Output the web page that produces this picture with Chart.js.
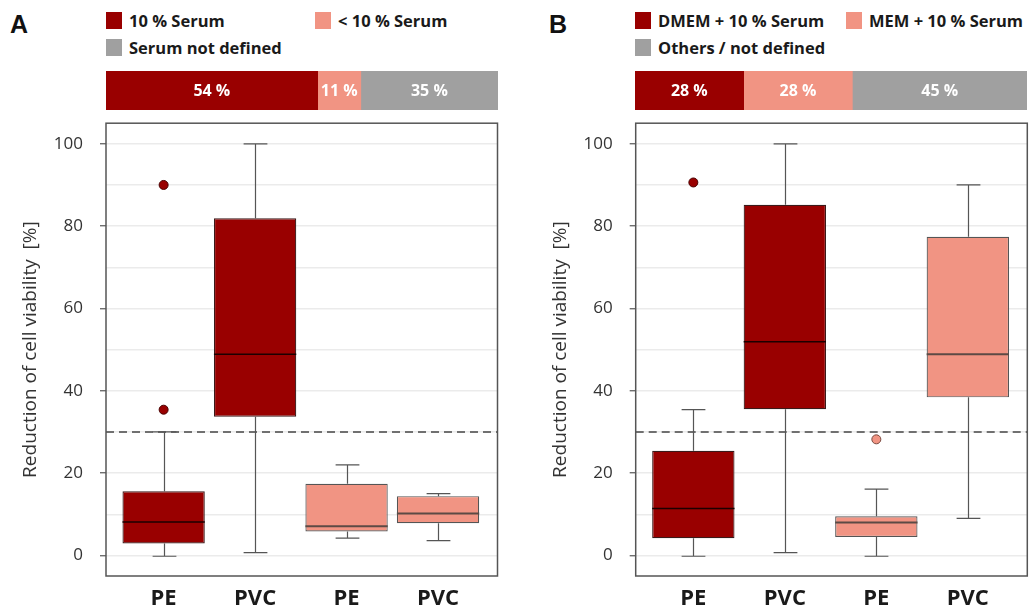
<!DOCTYPE html>
<html>
<head>
<meta charset="utf-8">
<script src="https://cdn.jsdelivr.net/npm/chart.js@4.4.1/dist/chart.umd.min.js"></script>
<style>
  body { margin: 0; background: #fff; font-family: 'Open Sans', sans-serif; }
  #wrap { position: relative; width: 1033px; height: 612px; overflow: hidden; }
  .letter { position: absolute; font-family: 'Liberation Sans', Arial, sans-serif; font-weight: bold;
            font-size: 25px; line-height: 25px; color: #111; }
  .sw { position: absolute; width: 16px; height: 17px; }
  .lt { position: absolute; font-weight: 700; font-size: 16.5px; line-height: 16px; color: #1a1a1a; white-space: nowrap; }
  canvas { position: absolute; }
</style>
</head>
<body>
<div id="wrap">
  <div class="letter" style="left:10px;top:12px">A</div>
  <div class="letter" style="left:549px;top:12px">B</div>

  <div id="legendA"></div>
  <div id="legendB"></div>

  <canvas id="shareA" width="392" height="39" style="left:106px;top:71px"></canvas>
  <canvas id="shareB" width="392" height="39" style="left:635px;top:71px"></canvas>

  <canvas id="boxA" width="516" height="516" style="left:0px;top:96px"></canvas>
  <canvas id="boxB" width="503" height="516" style="left:530px;top:96px"></canvas>
</div>

<script>
// 1. COLOURS
const DARK = '#990000';
const LIGHT = '#f19483';
const GREY = '#a0a0a0';

// 2. DATA - panel A (serum)
const legendA = ['10 % Serum', '< 10 % Serum', 'Serum not defined'];
const shareA = [54, 11, 35];
const catsA = ['PE', 'PVC', 'PE', 'PVC'];
const minA = [-0.2, 0.7, 4.2, 3.6];
const q1A  = [2.9, 33.7, 5.8, 7.8];
const medA = [8.1, 48.9, 7.1, 10.2];
const q3A  = [15.6, 81.9, 17.4, 14.4];
const maxA = [30.0, 100, 22.0, 15.0];
const outGroupA = [1, 1];
const outValA = [35.4, 90.0];

// DATA - panel B (medium)
const legendB = ['DMEM + 10 % Serum', 'MEM + 10 % Serum', 'Others / not defined'];
const shareB = [28, 28, 45];
const catsB = ['PE', 'PVC', 'PE', 'PVC'];
const minB = [-0.2, 0.7, -0.2, 9.0];
const q1B  = [4.2, 35.5, 4.5, 38.4];
const medB = [11.4, 51.9, 8.0, 48.9];
const q3B  = [25.4, 85.2, 9.5, 77.4];
const maxB = [35.4, 100, 16.1, 90.0];
const outGroupB = [1, 3];
const outValB = [90.6, 28.2];

const yTicks = [0, 10, 20, 30, 40, 50, 60, 70, 80, 90, 100];
const refLine = 30;
const boxColors = [DARK, DARK, LIGHT, LIGHT];
const shareColors = [DARK, LIGHT, GREY];

Chart.defaults.font.family = "'Open Sans', sans-serif";
Chart.defaults.color = '#333';

// 3. LEGENDS (html)
function buildLegend(targetId, labels, x0, x1) {
    const pos = [[x0, 12], [x1, 12], [x0, 39]];
    document.getElementById(targetId).innerHTML = labels.map((lab, i) => {
        const [x, y] = pos[i];
        return `<div class="sw" style="left:${x}px;top:${y}px;background:${shareColors[i]}"></div>` +
               `<div class="lt" style="left:${x + 23}px;top:${y + 1}px">${lab.replace('<', '&lt;')}</div>`;
    }).join('');
}

// 4. SHARE BAR
function makeShareChart(canvasId, shares) {
    const total = shares.reduce((a, b) => a + b, 0);
    const labelPlugin = {
        id: 'shareLabels',
        afterDatasetsDraw(chart) {
            const ctx = chart.ctx;
            ctx.save();
            ctx.fillStyle = '#fff';
            ctx.font = "bold 16px 'Open Sans'";
            ctx.textAlign = 'center';
            ctx.textBaseline = 'middle';
            chart.data.datasets.forEach((ds, i) => {
                const el = chart.getDatasetMeta(i).data[0];
                ctx.fillText(shares[i] + ' %', (el.x + el.base) / 2, el.y + 1);
            });
            ctx.restore();
        }
    };
    new Chart(document.getElementById(canvasId), {
        type: 'bar',
        data: {
            labels: [''],
            datasets: shares.map((v, i) => ({
                data: [v],
                backgroundColor: shareColors[i],
                borderWidth: 0,
                barPercentage: 1,
                categoryPercentage: 1
            }))
        },
        options: {
            indexAxis: 'y',
            responsive: false,
            animation: false,
            events: [],
            layout: { padding: 0 },
            scales: {
                x: { stacked: true, min: 0, max: total, display: false },
                y: { stacked: true, display: false }
            },
            plugins: { legend: { display: false }, tooltip: { enabled: false } }
        },
        plugins: [labelPlugin]
    });
}

// 5. BOX PLOT (floating bars + whiskers)
function makeBoxChart(canvasId, cats, mins, q1s, meds, q3s, maxs, outGroup, outVal, axisWidth, padRight) {
    const capHalf = 0.13;
    const boxPlugin = {
        id: 'boxExtras',
        beforeDatasetsDraw(chart) {
            const { ctx, chartArea: a, scales: { x, y } } = chart;
            ctx.save();
            // reference line
            const yr = Math.round(y.getPixelForValue(refLine));
            ctx.strokeStyle = '#707070';
            ctx.lineWidth = 2;
            ctx.setLineDash([8, 5]);
            ctx.beginPath();
            ctx.moveTo(a.left, yr);
            ctx.lineTo(a.right, yr);
            ctx.stroke();
            ctx.setLineDash([]);
            // whiskers
            ctx.strokeStyle = '#555';
            ctx.lineWidth = 1.2;
            mins.forEach((_, i) => {
                const cx = Math.round(x.getPixelForValue(i + 1)) + 0.5;
                const cap = x.getPixelForValue(i + 1 + capHalf) - x.getPixelForValue(i + 1);
                const yMin = y.getPixelForValue(mins[i]);
                const yMax = y.getPixelForValue(maxs[i]);
                const yQ1 = y.getPixelForValue(q1s[i]);
                const yQ3 = y.getPixelForValue(q3s[i]);
                ctx.beginPath();
                ctx.moveTo(cx, yQ3); ctx.lineTo(cx, yMax);
                ctx.moveTo(cx - cap, yMax); ctx.lineTo(cx + cap, yMax);
                ctx.moveTo(cx, yQ1); ctx.lineTo(cx, yMin);
                ctx.moveTo(cx - cap, yMin); ctx.lineTo(cx + cap, yMin);
                ctx.stroke();
            });
            ctx.restore();
        },
        afterDatasetsDraw(chart) {
            const { ctx, chartArea: a, scales: { y } } = chart;
            ctx.save();
            // medians
            chart.getDatasetMeta(1).data.forEach((bar, i) => {
                const ym = y.getPixelForValue(meds[i]);
                ctx.strokeStyle = boxColors[i] === DARK ? '#1c0000' : '#5c4a45';
                ctx.lineWidth = boxColors[i] === DARK ? 1.5 : 2;
                ctx.beginPath();
                ctx.moveTo(bar.x - bar.width / 2, ym);
                ctx.lineTo(bar.x + bar.width / 2, ym);
                ctx.stroke();
            });
            // frame
            ctx.strokeStyle = '#555';
            ctx.lineWidth = 1.5;
            ctx.strokeRect(a.left, a.top, a.right - a.left, a.bottom - a.top);
            ctx.restore();
        }
    };

    new Chart(document.getElementById(canvasId), {
        type: 'bar',
        data: {
            datasets: [
                {
                    type: 'scatter',
                    data: outGroup.map((g, i) => ({ x: g, y: outVal[i] })),
                    pointRadius: 4.5,
                    pointBackgroundColor: outGroup.map(g => boxColors[g - 1]),
                    pointBorderColor: outGroup.map(g => boxColors[g - 1] === DARK ? '#4a0000' : '#7a4a40'),
                    pointBorderWidth: 1
                },
                {
                    type: 'bar',
                    data: q1s.map((q, i) => ({ x: i + 1, y: [q1s[i], q3s[i]] })),
                    backgroundColor: boxColors,
                    borderColor: boxColors.map(c => c === DARK ? '#3a1a1a' : '#555'),
                    borderWidth: 1.2,
                    borderSkipped: false,
                    barPercentage: 0.9,
                    categoryPercentage: 1
                }
            ]
        },
        options: {
            responsive: false,
            animation: false,
            events: [],
            layout: { padding: { left: 0, top: 0, right: padRight, bottom: 0 } },
            scales: {
                x: {
                    type: 'linear',
                    offset: false,
                    min: 0.37,
                    max: 4.65,
                    afterBuildTicks: s => { s.ticks = cats.map((c, i) => ({ value: i + 1 })); },
                    afterFit: s => { s.height = 36; },
                    ticks: {
                        callback: v => cats[Math.round(v) - 1],
                        font: { size: 22, weight: 'bold' },
                        color: '#1a1a1a',
                        padding: 2
                    },
                    grid: { display: false },
                    border: { display: false }
                },
                y: {
                    min: -5,
                    max: 105,
                    afterBuildTicks: s => { s.ticks = yTicks.map(v => ({ value: v })); },
                    afterFit: s => { s.width = axisWidth; },
                    ticks: {
                        callback: v => (v % 20 === 0 ? v : ''),
                        font: { size: 17 },
                        color: '#333',
                        padding: 17
                    },
                    grid: {
                        color: '#ebebeb',
                        lineWidth: 1.5,
                        tickLength: 6,
                        tickWidth: 1.2,
                        tickColor: c => (c.tick && c.tick.value % 20 === 0 ? '#555' : 'rgba(0,0,0,0)')
                    },
                    border: { display: false },
                    title: {
                        display: true,
                        text: 'Reduction of cell viability  [%]',
                        font: { size: 19 },
                        color: '#333',
                        padding: { top: 19.5, bottom: 0 }
                    }
                }
            },
            plugins: { legend: { display: false }, tooltip: { enabled: false } }
        },
        plugins: [boxPlugin]
    });
}

buildLegend('legendA', legendA, 106, 315);
buildLegend('legendB', legendB, 635, 846);
makeShareChart('shareA', shareA);
makeShareChart('shareB', shareB);
makeBoxChart('boxA', catsA, minA, q1A, medA, q3A, maxA, outGroupA, outValA, 106, 18.5);
makeBoxChart('boxB', catsB, minB, q1B, medB, q3B, maxB, outGroupB, outValB, 105.7, 5.7);
</script>
</body>
</html>
